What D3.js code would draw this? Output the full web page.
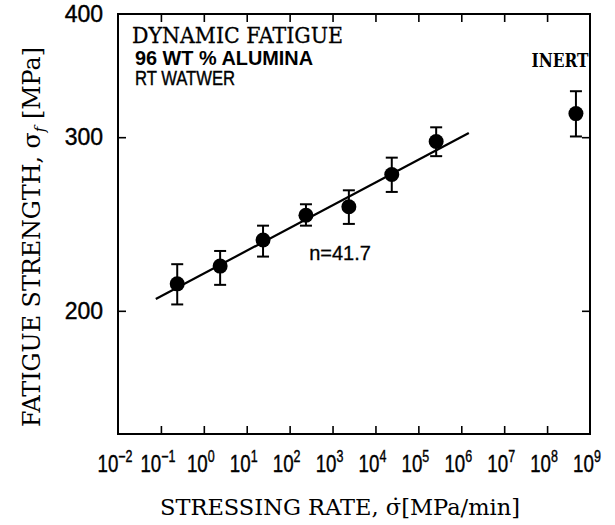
<!DOCTYPE html>
<html>
<head>
<meta charset="utf-8">
<script src="https://cdn.jsdelivr.net/npm/d3@7"></script>
<style>
  body { margin: 0; background: #fff; }
  svg { display: block; }
</style>
</head>
<body>
<div id="chart"></div>
<script>
// data
const rate = [0.24, 2.4, 24, 240, 2400, 24000, 260000];
const strength = [213, 222, 236, 250, 255, 275, 297];
const errLow = [203, 212.5, 227, 244, 245, 264, 287];
const errHigh = [223, 230, 244, 256.5, 265, 286, 307];

const inertRate = [4.7e8];
const inertStrength = [317];
const inertLow = [300.5];
const inertHigh = [334];

const fitRate = [0.076, 1.5e6];
const fitStrength = [205.6, 303];

const xTickExp = [-2, -1, 0, 1, 2, 3, 4, 5, 6, 7, 8, 9];
const yTicks = [200, 300, 400];

const W = 615, H = 525;
const pLeft = 118, pRight = 590, pTop = 14, pBottom = 434;

const svg = d3.select('#chart').append('svg')
    .attr('width', W)
    .attr('height', H);

const x = d3.scaleLog().domain([1e-2, 1e9]).range([pLeft, pRight]);
const y = d3.scaleLog().domain([150, 400]).range([pBottom, pTop]);

const serif = "'DejaVu Serif', serif";
const sans = "'Liberation Sans', Arial, sans-serif";

// frame
svg.append('rect')
    .attr('x', pLeft).attr('y', pTop)
    .attr('width', pRight - pLeft).attr('height', pBottom - pTop)
    .attr('fill', 'none').attr('stroke', '#000').attr('stroke-width', 2);

// inner ticks on the four sides
const decTicks = xTickExp.slice(1, -1).map(e => Math.pow(10, e));
const tl = 8;
svg.append('g')
    .call(d3.axisTop(x).tickValues(decTicks).tickSize(tl).tickFormat(''))
    .attr('transform', `translate(0,${pBottom})`)
    .call(g => g.select('.domain').remove());
svg.append('g')
    .call(d3.axisBottom(x).tickValues(decTicks).tickSize(tl).tickFormat(''))
    .attr('transform', `translate(0,${pTop})`)
    .call(g => g.select('.domain').remove());
svg.append('g')
    .call(d3.axisRight(y).tickValues([200, 300]).tickSize(tl).tickFormat(''))
    .attr('transform', `translate(${pLeft},0)`)
    .call(g => g.select('.domain').remove());
svg.append('g')
    .call(d3.axisLeft(y).tickValues([200, 300]).tickSize(tl).tickFormat(''))
    .attr('transform', `translate(${pRight},0)`)
    .call(g => g.select('.domain').remove());
svg.selectAll('.tick line').attr('stroke', '#000').attr('stroke-width', 1.6);

// y tick labels
svg.selectAll('.ylab')
    .data(yTicks)
    .enter().append('text')
    .attr('x', pLeft - 15)
    .attr('y', d => y(d) + 8)
    .attr('text-anchor', 'end')
    .style('font-family', sans)
    .style('font-size', '23px')
    .style('stroke', '#000').style('stroke-width', 0.4)
    .text(d => d);

// x tick labels 10^n
const xl = svg.selectAll('.xlab')
    .data(xTickExp)
    .enter().append('text')
    .attr('transform', d => `translate(${x(Math.pow(10, d)) - 3},472) scale(0.78,1)`)
    .attr('text-anchor', 'middle')
    .style('font-family', sans)
    .style('font-size', '24px')
    .style('stroke', '#000').style('stroke-width', 0.4);
xl.append('tspan').text('10');
xl.append('tspan')
    .attr('dy', -10)
    .style('font-size', '16px')
    .text(d => d < 0 ? '\u2212' + (-d) : d);

// axis titles
svg.append('text')
    .attr('x', 340).attr('y', 515)
    .attr('text-anchor', 'middle')
    .attr('textLength', 360).attr('lengthAdjust', 'spacingAndGlyphs')
    .style('font-family', serif)
    .style('font-size', '23px')
    .text('STRESSING RATE, \u03C3\u0307[MPa/min]');

const yt = svg.append('text')
    .attr('transform', 'translate(40,237) rotate(-90)')
    .attr('text-anchor', 'middle')
    .attr('textLength', 380).attr('lengthAdjust', 'spacingAndGlyphs')
    .style('font-family', serif)
    .style('font-size', '24px');
yt.append('tspan').text('FATIGUE STRENGTH, \u03C3');
yt.append('tspan').attr('dy', 5).style('font-size', '15px').style('font-style', 'italic').text('f');
yt.append('tspan').attr('dy', -5).text(' [MPa]');

// annotation texts
svg.append('text')
    .attr('x', 132).attr('y', 43)
    .attr('textLength', 211).attr('lengthAdjust', 'spacingAndGlyphs')
    .style('font-family', serif).style('font-size', '23px')
    .style('stroke', '#000').style('stroke-width', 0.3)
    .text('DYNAMIC FATIGUE');
svg.append('text')
    .attr('x', 135).attr('y', 65)
    .attr('textLength', 178).attr('lengthAdjust', 'spacingAndGlyphs')
    .style('font-family', sans).style('font-size', '20px').style('font-weight', 'bold')
    .text('96 WT % ALUMINA');
svg.append('text')
    .attr('x', 135).attr('y', 85)
    .attr('textLength', 100).attr('lengthAdjust', 'spacingAndGlyphs')
    .style('font-family', sans).style('font-size', '20px')
    .style('stroke', '#000').style('stroke-width', 0.4)
    .text('RT WATWER');
svg.append('text')
    .attr('x', 560).attr('y', 67)
    .attr('text-anchor', 'middle')
    .attr('textLength', 57).attr('lengthAdjust', 'spacingAndGlyphs')
    .style('font-family', serif).style('font-size', '19px').style('font-weight', 'bold')
    .text('INERT');
svg.append('text')
    .attr('x', 340).attr('y', 260)
    .attr('text-anchor', 'middle')
    .style('font-family', sans).style('font-size', '20px')
    .style('stroke', '#000').style('stroke-width', 0.3)
    .text('n=41.7');

// fitted line
const fit = fitRate.map((r, i) => [r, fitStrength[i]]);
svg.append('path')
    .datum(fit)
    .attr('d', d3.line().x(d => x(d[0])).y(d => y(d[1])))
    .attr('fill', 'none').attr('stroke', '#000').attr('stroke-width', 2.2);

// points with error bars
const pts = rate.map((r, i) => ({ r, s: strength[i], lo: errLow[i], hi: errHigh[i] }))
    .concat(inertRate.map((r, i) => ({ r, s: inertStrength[i], lo: inertLow[i], hi: inertHigh[i] })));

const cap = 6;
const pg = svg.append('g').attr('stroke', '#000').attr('stroke-width', 2);
pg.selectAll('.eb').data(pts).enter().append('line')
    .attr('x1', d => x(d.r)).attr('x2', d => x(d.r))
    .attr('y1', d => y(d.lo)).attr('y2', d => y(d.hi));
pg.selectAll('.cl').data(pts).enter().append('line')
    .attr('x1', d => x(d.r) - cap).attr('x2', d => x(d.r) + cap)
    .attr('y1', d => y(d.lo)).attr('y2', d => y(d.lo));
pg.selectAll('.ch').data(pts).enter().append('line')
    .attr('x1', d => x(d.r) - cap).attr('x2', d => x(d.r) + cap)
    .attr('y1', d => y(d.hi)).attr('y2', d => y(d.hi));
svg.selectAll('circle').data(pts).enter().append('circle')
    .attr('cx', d => x(d.r)).attr('cy', d => y(d.s))
    .attr('r', 7.5).attr('fill', '#000');
</script>
</body>
</html>
